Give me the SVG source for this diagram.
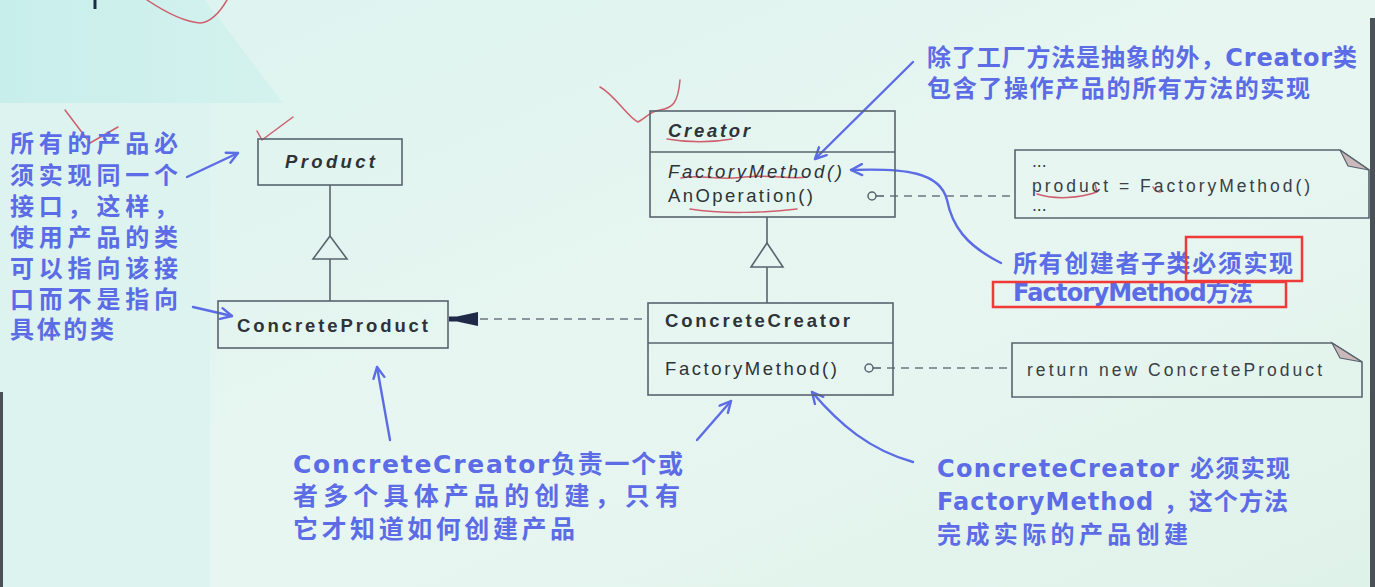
<svg xmlns="http://www.w3.org/2000/svg" width="1375" height="587" viewBox="0 0 1375 587">
<defs>
<linearGradient id="bg" x1="0" y1="0" x2="1" y2="1">
<stop offset="0" stop-color="#dcf3ef"/>
<stop offset="0.55" stop-color="#e8f6f1"/>
<stop offset="1" stop-color="#dff2ea"/>
</linearGradient>
<linearGradient id="cy" x1="0" y1="0" x2="1" y2="0">
<stop offset="0" stop-color="#c8eeeb"/>
<stop offset="1" stop-color="#d4f2ee"/>
</linearGradient>
<marker id="ah" viewBox="0 0 14 14" refX="12.5" refY="7" markerWidth="14" markerHeight="14" markerUnits="userSpaceOnUse" orient="auto">
<path d="M1.5,1.5 L12.5,7 L1.5,12.5" fill="none" stroke="#5b6ce6" stroke-width="2.4" stroke-linecap="round" stroke-linejoin="round"/>
</marker>
<style>
.box{fill:none;stroke:#58646e;stroke-width:1.6}
.uml{font-family:"Liberation Sans",Arial,sans-serif;font-size:18.5px;fill:#2e3338}
.b{font-weight:bold}
.i{font-style:italic}
.note{font-family:"Liberation Sans",Arial,sans-serif;font-size:17.5px;fill:#3a4046}
.ann{font-family:"DejaVu Sans","Noto Sans CJK SC",sans-serif;font-size:24px;font-weight:bold;fill:#5b6ce6}
.big{font-size:25px}
.blue{fill:none;stroke:#5b6ce6;stroke-width:2.4;stroke-linecap:round}
.dash{fill:none;stroke:#6d7780;stroke-width:1.6;stroke-dasharray:8 6}
.solid{fill:none;stroke:#58646e;stroke-width:1.6}
.red{fill:none;stroke:#cf5f6e;stroke-width:1.5;stroke-linecap:round;stroke-linejoin:round}
.hl{fill:none;stroke:#f03a3a;stroke-width:2.5}
</style>
</defs>

<!-- background -->
<rect x="0" y="0" width="1375" height="587" fill="url(#bg)"/>
<rect x="0" y="103" width="210" height="484" fill="#dcf3ef"/>
<polygon points="0,0 205,0 283,103 0,103" fill="url(#cy)"/>
<rect x="0" y="392" width="3" height="195" fill="#4a5258"/>
<rect x="1370" y="18" width="5" height="569" fill="#4a5258"/>

<!-- handwritten marks -->
<g id="scribbles">
<line x1="95" y1="0" x2="95" y2="9" stroke="#1c2a44" stroke-width="3"/>
<path class="red" d="M147,0 C165,12 185,22 200,23 C212,22 220,12 227,0" stroke="#9a7c8c"/>
<path class="red" d="M65,110 L90,143 L118,127"/>
<path class="red" d="M257,131 L262,140 L293,117"/>
<path class="red" d="M600,87 C615,95 628,118 638,122 C646,118 650,111 660,110 C672,108 678,104 680,80"/>
<path class="red" d="M667,139 C690,143 715,142 732,139"/>
<path class="red" d="M681,178 C700,174 720,181 745,177 C770,174 790,180 807,177"/>
<path class="red" d="M690,209 C720,214 765,213 797,209"/>
<path class="red" d="M1037,194 C1055,200 1080,198 1097,192 L1095,184"/>
<path class="red" d="M1153,187 C1155,192 1160,193 1162,191"/>
</g>

<!-- connectors -->
<g id="connectors">
<line class="solid" x1="330" y1="185" x2="330" y2="236"/>
<polygon points="330,236 313,259 347,259" fill="none" stroke="#58646e" stroke-width="1.6"/>
<line class="solid" x1="330" y1="259" x2="330" y2="301"/>
<line class="solid" x1="767" y1="217" x2="767" y2="243"/>
<polygon points="767,243 751,267 783,267" fill="none" stroke="#58646e" stroke-width="1.6"/>
<line class="solid" x1="767" y1="267" x2="767" y2="303"/>
<line class="dash" x1="480" y1="319" x2="648" y2="319"/>
<path d="M449,316.5 L457,316.5 L478,312 L478,326 L457,321.5 L449,321.5 Z" fill="#1e2a48"/>
<circle cx="872" cy="196" r="4" fill="none" stroke="#58646e" stroke-width="1.5"/>
<line class="solid" x1="876" y1="196" x2="884" y2="196"/>
<line class="dash" x1="890" y1="196" x2="1015" y2="196"/>
<circle cx="869" cy="368" r="4" fill="none" stroke="#58646e" stroke-width="1.5"/>
<line class="solid" x1="873" y1="368" x2="881" y2="368"/>
<line class="dash" x1="887" y1="368" x2="1012" y2="368"/>
<line class="blue" x1="187" y1="177" x2="238" y2="153" marker-end="url(#ah)"/>
<line class="blue" x1="193" y1="307" x2="232" y2="316" marker-end="url(#ah)"/>
<line class="blue" x1="913" y1="62" x2="815" y2="159" marker-end="url(#ah)"/>
<path class="blue" d="M1001,263 C965,245 952,225 947,200 C940,172 905,168 851,170" marker-end="url(#ah)"/>
<line class="blue" x1="390" y1="440" x2="377" y2="367" marker-end="url(#ah)"/>
<line class="blue" x1="697" y1="440" x2="731" y2="401" marker-end="url(#ah)"/>
<path class="blue" d="M913,462 C870,450 840,425 812,392" marker-end="url(#ah)"/>
</g>

<!-- UML nodes -->
<g id="product">
<rect class="box" x="258" y="139" width="144" height="46"/>
<text class="uml b i" x="285" y="168" textLength="90" lengthAdjust="spacing">Product</text>
</g>
<g id="concreteProduct">
<rect class="box" x="218" y="301" width="230" height="47"/>
<text class="uml b" x="237" y="332" textLength="191" lengthAdjust="spacing">ConcreteProduct</text>
</g>
<g id="creator">
<rect class="box" x="650" y="111" width="245" height="106"/>
<line class="solid" x1="650" y1="152" x2="895" y2="152"/>
<text class="uml b i" x="668" y="137" textLength="82" lengthAdjust="spacing">Creator</text>
<text class="uml i" x="668" y="178" textLength="174" lengthAdjust="spacing">FactoryMethod()</text>
<text class="uml" x="668" y="202" textLength="145" lengthAdjust="spacing">AnOperation()</text>
</g>
<g id="concreteCreator">
<rect class="box" x="648" y="303" width="245" height="92"/>
<line class="solid" x1="648" y1="343" x2="893" y2="343"/>
<text class="uml b" x="665" y="327" textLength="185" lengthAdjust="spacing">ConcreteCreator</text>
<text class="uml" x="665" y="375" textLength="172" lengthAdjust="spacing">FactoryMethod()</text>
</g>
<g id="note1">
<path class="box" d="M1015,150 H1340 L1369,170 V218 H1015 Z"/>
<path d="M1340,150 L1369,170 L1348,166 Z" fill="#c9b9bb" stroke="#58646e" stroke-width="1.2"/>
<text class="note" x="1032" y="167">...</text>
<text class="note" x="1032" y="192" textLength="278" lengthAdjust="spacing">product = FactoryMethod()</text>
<text class="note" x="1032" y="211">...</text>
</g>
<g id="note2">
<path class="box" d="M1012,343 H1332 L1362,362 V397 H1012 Z"/>
<path d="M1332,343 L1362,362 L1340,358 Z" fill="#c9b9bb" stroke="#58646e" stroke-width="1.2"/>
<text class="note" x="1027" y="376" textLength="295" lengthAdjust="spacing">return new ConcreteProduct</text>
</g>

<!-- annotations -->
<g id="noteLeft">
<text class="ann" x="10" y="152" textLength="168" lengthAdjust="spacing">所有的产品必</text>
<text class="ann" x="10" y="184" textLength="168" lengthAdjust="spacing">须实现同一个</text>
<text class="ann" x="10" y="215" textLength="168" lengthAdjust="spacing">接口，这样，</text>
<text class="ann" x="10" y="246" textLength="168" lengthAdjust="spacing">使用产品的类</text>
<text class="ann" x="10" y="277" textLength="168" lengthAdjust="spacing">可以指向该接</text>
<text class="ann" x="10" y="308" textLength="168" lengthAdjust="spacing">口而不是指向</text>
<text class="ann" x="10" y="338" textLength="104" lengthAdjust="spacing">具体的类</text>
</g>
<g id="noteTop">
<text class="ann" x="927" y="66" textLength="430" lengthAdjust="spacing">除了工厂方法是抽象的外，Creator类</text>
<text class="ann" x="927" y="97" textLength="383" lengthAdjust="spacing">包含了操作产品的所有方法的实现</text>
</g>
<g id="noteRight">
<text class="ann" x="1013" y="272" textLength="280" lengthAdjust="spacing">所有创建者子类必须实现</text>
<text class="ann" x="1013" y="301" textLength="240" lengthAdjust="spacing">FactoryMethod方法</text>
<rect class="hl" x="1186" y="237" width="116" height="44"/>
<rect class="hl" x="993" y="282" width="293" height="25"/>
</g>
<g id="noteBottomMid">
<text class="ann big" x="293" y="473" textLength="390" lengthAdjust="spacing">ConcreteCreator负责一个或</text>
<text class="ann big" x="293" y="505" textLength="387" lengthAdjust="spacing">者多个具体产品的创建，只有</text>
<text class="ann big" x="293" y="538" textLength="282" lengthAdjust="spacing">它才知道如何创建产品</text>
</g>
<g id="noteBottomRight">
<text class="ann" x="937" y="477" textLength="353" lengthAdjust="spacing">ConcreteCreator 必须实现</text>
<text class="ann" x="937" y="510" textLength="351" lengthAdjust="spacing">FactoryMethod ，这个方法</text>
<text class="ann" x="937" y="543" textLength="251" lengthAdjust="spacing">完成实际的产品创建</text>
</g>
</svg>
